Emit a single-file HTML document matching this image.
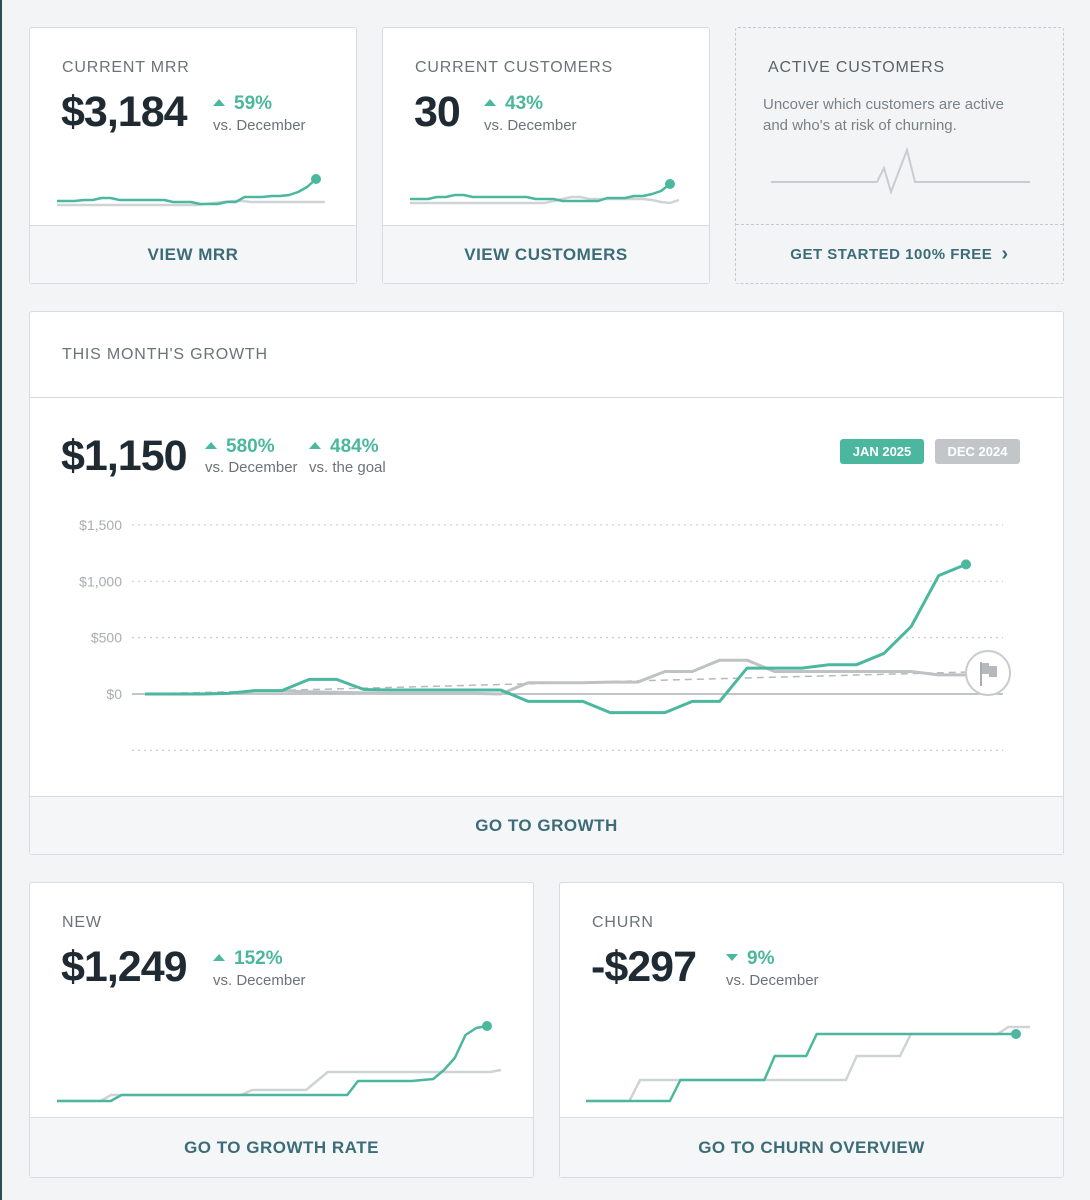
<!DOCTYPE html>
<html><head><meta charset="utf-8">
<style>
*{box-sizing:border-box;margin:0;padding:0}
body{width:1090px;height:1200px;background:#f3f4f6;font-family:"Liberation Sans",sans-serif;position:relative;overflow:hidden}
.card{position:absolute;background:#fff;border:1px solid #d8dbdf;border-radius:3px}
.foot{position:absolute;left:0;right:0;bottom:0;background:#f5f6f7;border-top:1px solid #d8dbdf;color:#3c6c78;font-weight:bold;font-size:17px;letter-spacing:.5px;display:flex;align-items:center;justify-content:center}
.lbl{position:absolute;color:#6b7378;font-size:16px;letter-spacing:.8px}
.big{position:absolute;color:#1f2a33;font-size:43px;font-weight:bold;letter-spacing:-1px}
.pct{position:absolute;color:#4bb79e;font-size:19px;font-weight:bold}
.vs{position:absolute;color:#6b7378;font-size:15px}
.tri{display:inline-block;width:0;height:0;border-left:6px solid transparent;border-right:6px solid transparent;border-bottom:7px solid #4bb79e;margin-right:9px;vertical-align:3px}
.trid{border-bottom:none;border-top:7px solid #4bb79e}
svg{position:absolute;left:0;top:0}
</style></head><body>
<div style="position:absolute;left:0;top:0;width:2px;height:1200px;background:#2b4f55"></div>

<div class="card" style="left:29px;top:27px;width:328px;height:257px">
<div class="lbl" style="left:32px;top:31px">CURRENT MRR</div>
<div class="big" style="left:31px;top:60px">$3,184</div>
<div class="pct" style="left:183px;top:65px"><span class="tri"></span>59%</div>
<div class="vs" style="left:183px;top:89px">vs. December</div>
<div class="foot" style="height:58px">VIEW MRR</div>
</div>

<div class="card" style="left:382px;top:27px;width:328px;height:257px">
<div class="lbl" style="left:32px;top:31px">CURRENT CUSTOMERS</div>
<div class="big" style="left:31px;top:60px">30</div>
<div class="pct" style="left:101px;top:65px"><span class="tri"></span>43%</div>
<div class="vs" style="left:101px;top:89px">vs. December</div>
<div class="foot" style="height:58px">VIEW CUSTOMERS</div>
</div>

<div class="card" style="left:735px;top:27px;width:329px;height:257px;background:#f3f4f6;border:1px dashed #c5c9cd">
<div class="lbl" style="left:32px;top:31px;color:#5a6369">ACTIVE CUSTOMERS</div>
<div class="vs" style="left:27px;top:66px;line-height:21px;color:#7a8287">Uncover which customers are active<br>and who's at risk of churning.</div>
<svg width="329" height="200"><polyline points="35,154 141,154 148,140 155,164 171,122 179,154 294,154" fill="none" stroke="#c9cccf" stroke-width="2"/></svg>
<div class="foot" style="height:59px;background:#f3f4f6;border-top:1px dashed #c5c9cd;font-size:15px">GET STARTED 100% FREE &nbsp;<span style="font-size:20px">›</span></div>
</div>

<div class="card" style="left:29px;top:311px;width:1035px;height:544px">
<div class="lbl" style="left:32px;top:34px">THIS MONTH'S GROWTH</div>
<div style="position:absolute;left:0;right:0;top:85px;border-top:1px solid #d8dbdf"></div>
<div class="big" style="left:31px;top:120px">$1,150</div>
<div class="pct" style="left:175px;top:124px"><span class="tri"></span>580%</div>
<div class="vs" style="left:175px;top:147px">vs. December</div>
<div class="pct" style="left:279px;top:124px"><span class="tri"></span>484%</div>
<div class="vs" style="left:279px;top:147px">vs. the goal</div>
<div style="position:absolute;left:810px;top:127px;width:84px;height:25px;background:#4bb79e;color:#fff;border-radius:3px;font-size:13px;font-weight:bold;text-align:center;line-height:25px">JAN 2025</div>
<div style="position:absolute;left:905px;top:127px;width:85px;height:25px;background:#c3c6c9;color:#fff;border-radius:3px;font-size:13px;font-weight:bold;text-align:center;line-height:25px">DEC 2024</div>
<div class="foot" style="height:58px">GO TO GROWTH</div>
</div>

<div class="card" style="left:29px;top:882px;width:505px;height:296px">
<div class="lbl" style="left:32px;top:31px">NEW</div>
<div class="big" style="left:31px;top:60px">$1,249</div>
<div class="pct" style="left:183px;top:65px"><span class="tri"></span>152%</div>
<div class="vs" style="left:183px;top:89px">vs. December</div>
<div class="foot" style="height:60px">GO TO GROWTH RATE</div>
</div>

<div class="card" style="left:559px;top:882px;width:505px;height:296px">
<div class="lbl" style="left:32px;top:31px">CHURN</div>
<div class="big" style="left:31px;top:60px">-$297</div>
<div class="pct" style="left:166px;top:65px"><span class="tri trid"></span>9%</div>
<div class="vs" style="left:166px;top:89px">vs. December</div>
<div class="foot" style="height:60px">GO TO CHURN OVERVIEW</div>
</div>

<svg id="charts" width="1090" height="1200"></svg>

<script>
// Main growth chart data
const yTicks = [1500, 1000, 500, 0, -500];
const yTickLabels = ["$1,500", "$1,000", "$500", "$0", ""];
const janGrowth = [0,0,0,5,30,30,130,130,40,35,35,35,35,35,-65,-65,-65,-165,-165,-165,-65,-65,230,230,230,260,260,360,600,1050,1150];
const decGrowth = [0,0,0,5,25,25,20,15,10,5,5,5,5,0,100,100,100,105,105,200,200,300,300,200,200,200,200,200,200,170,170];
const goalLine = [0, 200];
// Sparklines
const mrrJan = [4,4,4,5,5,7,7,5,5,5,5,5,5,3,3,3,1,1,1,3,3,8,8,8,9,9,10,13,18,26];
const mrrDec = [0,0,0,0,0,0,0,0,0,0,0,0,0,0,0,0,1,2,3,4,4,3,3,3,3,3,3,3,3,3];
const custJan = [4,4,4,6,6,8,8,6,6,6,6,6,6,6,4,4,4,2,2,2,2,2,5,5,5,7,7,9,12,19];
const custDec = [0,0,0,0,0,0,0,0,0,0,0,0,0,0,0,0,2,4,6,6,4,4,4,4,4,4,4,3,1,0,3];
const newJan = [0,0,0,0,0,0,6,6,6,6,6,6,6,6,6,6,6,6,6,6,6,6,6,6,6,6,6,6,20,20,20,20,20,20,21,22,31,43,66,73,75];
const newDec = [0,0,0,0,0,6,6,6,6,6,6,6,6,6,6,6,6,6,11,11,11,11,11,11,20,29,29,29,29,29,29,29,29,29,29,29,29,29,29,29,29,31];
const churnJan = [0,0,0,0,0,0,0,0,0,21,21,21,21,21,21,21,21,21,45,45,45,45,67,67,67,67,67,67,67,67,67,67,67,67,67,67,67,67,67,67,67,67];
const churnDec = [0,0,0,0,0,21,21,21,21,21,21,21,21,21,21,21,21,21,21,21,21,21,21,21,21,45,45,45,45,45,67,67,67,67,67,67,67,67,67,74,74,74];

const NS = "http://www.w3.org/2000/svg";
const svg = document.getElementById('charts');
function mk(tag, attrs){const e=document.createElementNS(NS,tag);for(const k in attrs)e.setAttribute(k,attrs[k]);svg.appendChild(e);return e;}

const mx0=145, mx1=966, plotL=132, plotR=1003;
function yMain(v){return 694 - v*0.1127;}
function xMain(i){return mx0 + (mx1-mx0)*i/30;}
yTicks.forEach((t,i)=>{
  const g=mk('line',{x1:plotL,x2:plotR,y1:yMain(t),y2:yMain(t),stroke:t===0?'#aeb2b5':'#c9cccf','stroke-width':t===0?1.5:1.2,'stroke-dasharray':t===0?'':'2,4'});
  
  
  const tx=mk('text',{x:122,y:yMain(t)+5,'text-anchor':'end','font-size':14,fill:'#a9adb1','font-family':'Liberation Sans, sans-serif'});
  tx.textContent=yTickLabels[i];
  
  
});
const goal=mk('line',{x1:xMain(0),y1:yMain(goalLine[0]),x2:990,y2:yMain(goalLine[1]),stroke:'#b5b9bc','stroke-width':1.5,'stroke-dasharray':'7,5'});


function pts(arr,xf,yf){return arr.map((v,i)=>xf(i)+','+yf(v)).join(' ');}
const dl=mk('polyline',{points:pts(decGrowth,xMain,yMain),fill:'none',stroke:'#bfc2c5','stroke-width':3,'stroke-linejoin':'round'});


const jl=mk('polyline',{points:pts(janGrowth,xMain,yMain),fill:'none',stroke:'#4bb79e','stroke-width':3,'stroke-linejoin':'round'});


const jd=mk('circle',{cx:xMain(janGrowth.length-1),cy:yMain(janGrowth[janGrowth.length-1]),r:5,fill:'#4bb79e'});


const fc=mk('circle',{cx:988,cy:673,r:22,fill:'#fff',stroke:'#c9cccf','stroke-width':2});


mk('line',{x1:981,y1:662,x2:981,y2:686,stroke:'#a9adb1','stroke-width':2});
mk('path',{d:'M982,663 h7 v3 h8 v11 h-8 v-3 h-7 z',fill:'#b5b9bc'});

function spark(name,jan,dec,x0,x1,base,scale,decLen){
  const n=jan.length, nd=dec.length;
  const xf=i=>x0+(x1-x0)*i/(n-1);
  const xd=i=>x0+(decLen-x0)*i/(nd-1);
  const yf=v=>base-v*scale;
  const d=mk('polyline',{points:pts(dec,xd,yf),fill:'none',stroke:'#d0d3d5','stroke-width':2.5});
  
  
  const j=mk('polyline',{points:pts(jan,xf,yf),fill:'none',stroke:'#4bb79e','stroke-width':2.5,'stroke-linejoin':'round'});
  
  
  const c=mk('circle',{cx:x1,cy:yf(jan[n-1]),r:5,fill:'#4bb79e'});
  
  
}
spark('mrr',mrrJan,mrrDec,57,316,205,1,325);
spark('customers',custJan,custDec,410,670,203,1,679);
spark('new',newJan,newDec,57,487,1101,1,501);
spark('churn',churnJan,churnDec,586,1016,1101,1,1030);
</script>
</body></html>
